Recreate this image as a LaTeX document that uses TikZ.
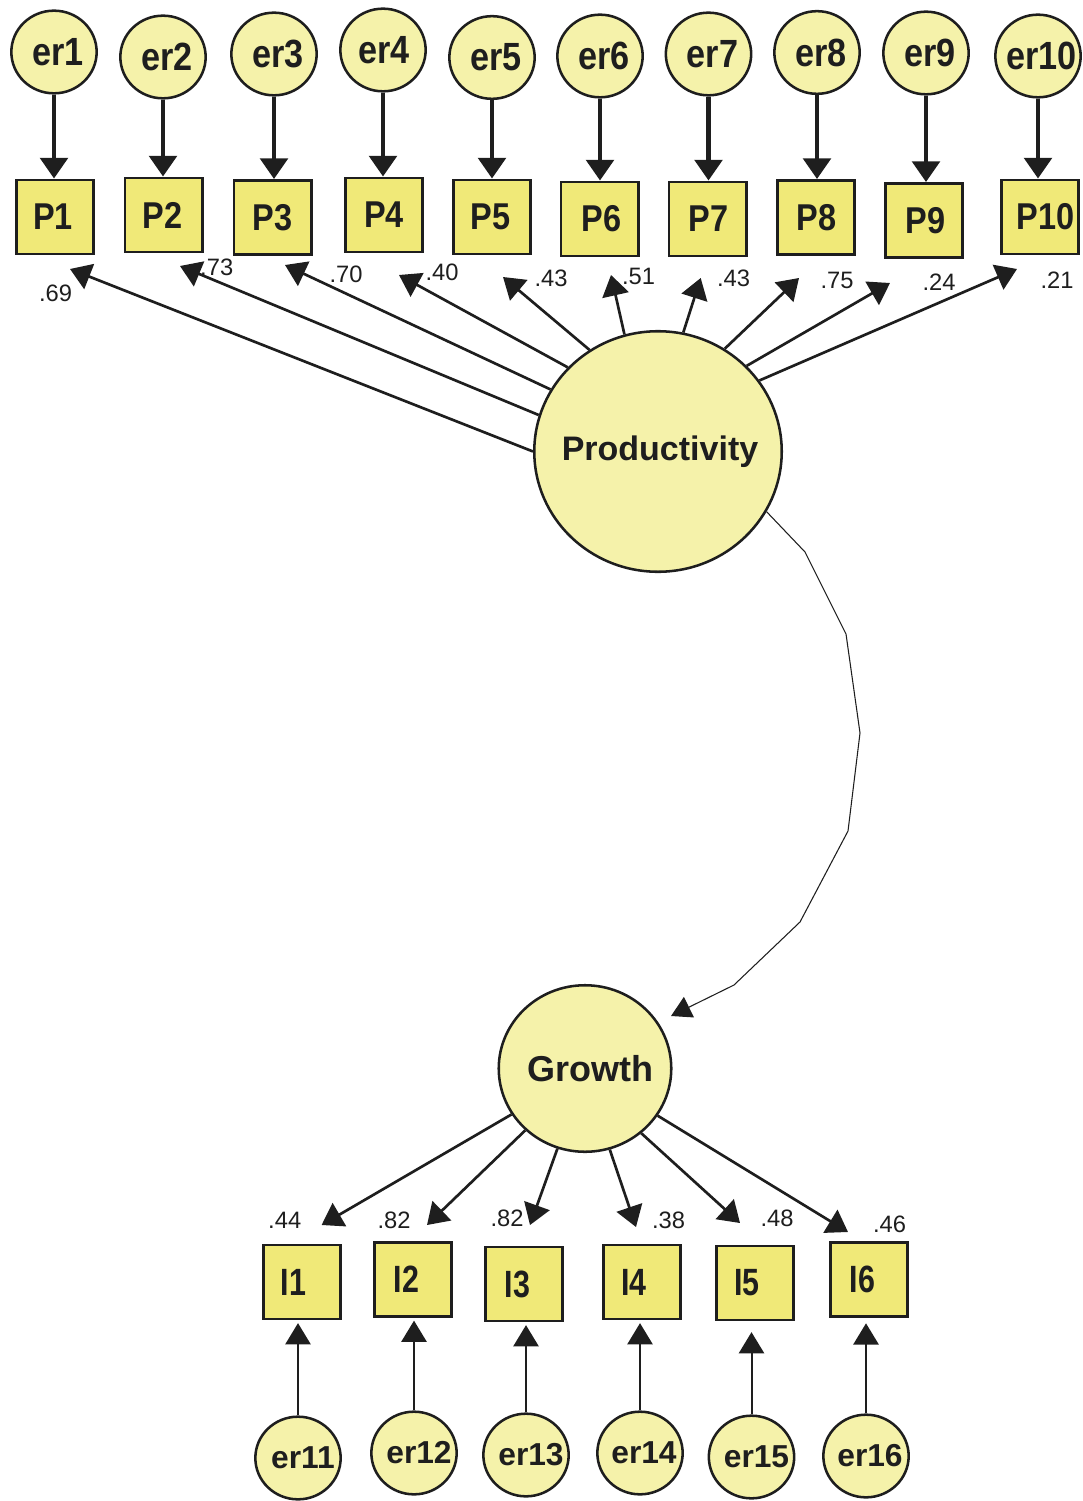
\documentclass[tikz,border=0pt]{standalone}
\usepackage{fontspec}
\usepackage{graphicx}
\setmainfont{Liberation Sans}
\usetikzlibrary{arrows.meta,shapes.geometric}
\definecolor{circfill}{RGB}{245,242,170}
\definecolor{boxfill}{RGB}{240,233,120}
\definecolor{ink}{RGB}{30,30,30}
\newcommand{\zbox}[2]{\makebox[0pt]{\hspace*{#1}#2}}
\newcommand{\nar}[1]{\scalebox{0.87}[1]{#1}}
\begin{document}
\begin{tikzpicture}[x=0.75pt,y=-0.75pt,
  errc/.style={ellipse,draw=ink,fill=circfill,line width=1.9pt,minimum width=64pt,minimum height=62pt,inner sep=0pt,text=ink},
  topfont/.style={font=\fontsize{29.5}{29.5}\selectfont\bfseries},
  botfont/.style={font=\fontsize{23.8}{23.8}\selectfont\bfseries},
  obs/.style={rectangle,draw=ink,fill=boxfill,line width=2.2pt,minimum width=57.8pt,minimum height=55.5pt,inner sep=0pt,text=ink,font=\fontsize{28}{28}\selectfont\bfseries},
  ind/.style={obs,font=\fontsize{28.5}{28.5}\selectfont\bfseries},
  latent/.style={ellipse,draw=ink,fill=circfill,line width=1.9pt,inner sep=0pt,text=ink},
  coef/.style={inner sep=0pt,text=ink,font=\fontsize{17.8}{17.8}\selectfont},
  erarr/.style={draw=ink,line width=3.4pt,-{Triangle[length=15.5pt,width=20.5pt]}},
  parr/.style={draw=ink,line width=2pt,-{Triangle[length=15.5pt,width=20pt]}},
  barr/.style={draw=ink,line width=1.5pt,-{Triangle[length=16pt,width=19pt]}},
  corr/.style={draw=ink,line width=0.8pt,-{Triangle[length=15pt,width=17pt]}}
]
\useasboundingbox (0,0) rectangle (1082,1501);

% ---------- top error terms ----------
\node[errc,topfont] (er1)  at (54,52)   {\zbox{6pt}{\nar{er1}}};
\node[errc,topfont] (er2)  at (163,57)  {\zbox{6pt}{\nar{er2}}};
\node[errc,topfont] (er3)  at (274,54)  {\zbox{6pt}{\nar{er3}}};
\node[errc,topfont] (er4)  at (383,50)  {\zbox{2pt}{\nar{er4}}};
\node[errc,topfont] (er5)  at (492,57.5){\zbox{6pt}{\nar{er5}}};
\node[errc,topfont] (er6)  at (600,56)  {\zbox{6pt}{\nar{er6}}};
\node[errc,topfont] (er7)  at (708.5,54){\zbox{6pt}{\nar{er7}}};
\node[errc,topfont] (er8)  at (817,52.5){\zbox{6pt}{\nar{er8}}};
\node[errc,topfont] (er9)  at (926,53)  {\zbox{6pt}{\nar{er9}}};
\node[errc,topfont] (er10) at (1038,56) {\zbox{5pt}{\nar{er10}}};

% ---------- P indicators ----------
\node[obs] (P1)  at (55,217)    {\zbox{-3pt}{\nar{P1}}};
\node[obs] (P2)  at (163.5,215) {\zbox{-1pt}{\nar{P2}}};
\node[obs] (P3)  at (272.5,217.5){\zbox{0pt}{\nar{P3}}};
\node[obs] (P4)  at (384,215)   {\zbox{0pt}{\nar{P4}}};
\node[obs] (P5)  at (492,217)   {\zbox{-2pt}{\nar{P5}}};
\node[obs] (P6)  at (599.5,219) {\zbox{3pt}{\nar{P6}}};
\node[obs] (P7)  at (707.5,219) {\zbox{2pt}{\nar{P7}}};
\node[obs] (P8)  at (816,217.5) {\zbox{1pt}{\nar{P8}}};
\node[obs] (P9)  at (924,220.5) {\zbox{2pt}{\nar{P9}}};
\node[obs] (P10) at (1040,217)  {\zbox{8pt}{\nar{P10}}};

% ---------- latent variables ----------
\node[latent,minimum width=185.6pt,minimum height=180.4pt,font=\fontsize{25.5}{25.5}\selectfont\bfseries] (prod) at (658,451.5) {\zbox{3pt}{\raisebox{-2pt}{Productivity}}};
\node[latent,minimum width=129.4pt,minimum height=124.9pt,font=\fontsize{27}{27}\selectfont\bfseries] (growth) at (585,1068.5) {\zbox{8pt}{Growth}};

% ---------- I indicators ----------
\node[ind] (I1) at (302,1282)   {\zbox{-13pt}{\scalebox{0.8}[1]{I1}}};
\node[ind] (I2) at (413,1279.5) {\zbox{-10pt}{\scalebox{0.8}[1]{I2}}};
\node[ind] (I3) at (524,1284)   {\zbox{-10pt}{\scalebox{0.8}[1]{I3}}};
\node[ind] (I4) at (642,1282)   {\zbox{-12pt}{\scalebox{0.8}[1]{I4}}};
\node[ind] (I5) at (755,1283)   {\zbox{-12pt}{\scalebox{0.8}[1]{I5}}};
\node[ind] (I6) at (869,1279.5) {\zbox{-10pt}{\scalebox{0.8}[1]{I6}}};

% ---------- bottom error terms ----------
\node[errc,botfont] (er11) at (298,1458)   {\zbox{7.5pt}{er11}};
\node[errc,botfont] (er12) at (414,1453)   {\zbox{7.5pt}{er12}};
\node[errc,botfont] (er13) at (526,1455)   {\zbox{7.5pt}{er13}};
\node[errc,botfont] (er14) at (640,1453)   {\zbox{6pt}{er14}};
\node[errc,botfont] (er15) at (751.5,1457) {\zbox{7.5pt}{er15}};
\node[errc,botfont] (er16) at (866,1456)   {\zbox{6pt}{er16}};

% ---------- coefficient labels ----------
\node[coef] (l1)  at (55.5,293)  {.69};
\node[coef] (l2)  at (216.7,267) {.73};
\node[coef] (l3)  at (346,274)   {.70};
\node[coef] (l4)  at (442,272)   {.40};
\node[coef] (l5)  at (551,278)   {.43};
\node[coef] (l6)  at (638.5,276) {.51};
\node[coef] (l7)  at (733.6,278) {.43};
\node[coef] (l8)  at (837,280)   {.75};
\node[coef] (l9)  at (939,282)   {.24};
\node[coef] (l10) at (1057,280)  {.21};
\node[coef] (m1) at (284.7,1220) {.44};
\node[coef] (m2) at (394,1220)   {.82};
\node[coef] (m3) at (507,1218)   {.82};
\node[coef] (m4) at (668.5,1220) {.38};
\node[coef] (m5) at (777,1218)   {.48};
\node[coef] (m6) at (889.6,1224) {.46};

% ---------- arrow tip coordinates ----------
\coordinate (t1)  at (70,269);
\coordinate (t2)  at (180,266);
\coordinate (t3)  at (285,265);
\coordinate (t4)  at (399,275);
\coordinate (t5)  at (503,277);
\coordinate (t6)  at (611,275);
\coordinate (t7)  at (700.7,278);
\coordinate (t8)  at (799,278);
\coordinate (t9)  at (890,283);
\coordinate (t10) at (1017,269);
\coordinate (g1) at (321.6,1225);
\coordinate (g2) at (427,1225);
\coordinate (g3) at (530,1225);
\coordinate (g4) at (636,1227);
\coordinate (g5) at (740,1223);
\coordinate (g6) at (848,1232);
\coordinate (ct) at (671,1016);

% ---------- error -> P arrows ----------
\foreach \i in {1,...,10}{
  \draw[erarr] (er\i.south) -- (er\i.south |- P\i.north);
}

% ---------- Productivity -> P ----------
\draw[parr] (prod.180)   -- (t1);
\draw[parr] (prod.163)   -- (t2);
\draw[parr] (prod.150.3) -- (t3);
\draw[parr] (prod.137)   -- (t4);
\draw[parr] (prod.124.6) -- (t5);
\draw[parr] (prod.106.5) -- (t6);
\draw[parr] (prod.78)    -- (t7);
\draw[parr] (prod.57.3)  -- (t8);
\draw[parr] (prod.44.5)  -- (t9);
\draw[parr] (prod.35.8)  -- (t10);

% ---------- Growth -> I ----------
\draw[parr] (growth.212.5) -- (g1);
\draw[parr] (growth.226.6) -- (g2);
\draw[parr] (growth.251.7) -- (g3);
\draw[parr] (growth.287)   -- (g4);
\draw[parr] (growth.311.5) -- (g5);
\draw[parr] (growth.327)   -- (g6);

% ---------- bottom error -> I ----------
\draw[barr] (er11.north) -- ([yshift=-2pt]er11.north |- I1.south);
\draw[barr] (er12.north) -- ([yshift=-2pt]er12.north |- I2.south);
\draw[barr] (er13.north) -- ([yshift=-2pt]er13.north |- I3.south);
\draw[barr] (er14.north) -- ([yshift=-2pt]er14.north |- I4.south);
\draw[barr] (er15.north) -- ([yshift=-8pt]er15.north |- I5.south);
\draw[barr] (er16.north) -- ([yshift=-4pt]er16.north |- I6.south);

% ---------- correlation path ----------
\draw[corr] (prod.-29) -- (805,552) -- (846,634) -- (860,733) -- (848,831) -- (800,922) -- (734,985) -- (ct);
\end{tikzpicture}
\end{document}
